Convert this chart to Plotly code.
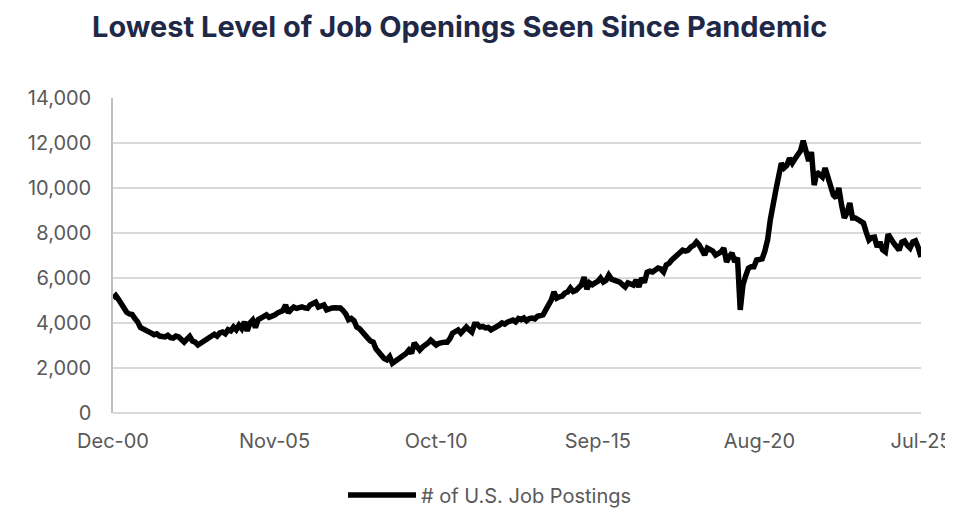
import pandas as pd
import plotly.graph_objects as go

# Monthly values (thousands of postings), Dec-2000 .. Jul-2025
v2000 = [5100]
v2001 = [5220, 5050, 4850, 4650, 4480, 4400, 4380, 4200, 4050, 3800, 3750, 3650]
v2002 = [3620, 3550, 3480, 3520, 3420, 3400, 3380, 3450, 3350, 3330, 3420, 3380]
v2003 = [3300, 3150, 3280, 3400, 3200, 3150, 3020, 3100, 3240, 3300, 3380, 3450]
v2004 = [3500, 3420, 3560, 3600, 3520, 3700, 3650, 3820, 3700, 3900, 3750, 4050]
v2005 = [3650, 4000, 4130, 3800, 4150, 4220, 4300, 4360, 4250, 4270, 4350, 4440]
v2006 = [4500, 4550, 4800, 4450, 4600, 4710, 4650, 4700, 4720, 4670, 4650, 4800]
v2007 = [4850, 4930, 4710, 4750, 4800, 4580, 4650, 4670, 4680, 4650, 4670, 4550]
v2008 = [4400, 4150, 4200, 4100, 3820, 3750, 3600, 3400, 3330, 3200, 3150, 2850]
v2009 = [2700, 2500, 2420, 2360, 2500, 2210, 2300, 2360, 2450, 2500, 2650, 2800]
v2010 = [2650, 3110, 2900, 2800, 2930, 3000, 3110, 3240, 3100, 3020, 3100, 3150]
v2011 = [3150, 3150, 3300, 3550, 3600, 3690, 3550, 3700, 3820, 3700, 3600, 3950]
v2012 = [3950, 3820, 3850, 3780, 3800, 3690, 3750, 3820, 3900, 4000, 3950, 4040]
v2013 = [4100, 4130, 4050, 4200, 4150, 4220, 4100, 4200, 4220, 4180, 4300, 4360]
v2014 = [4360, 4580, 4800, 5020, 5380, 5100, 5160, 5200, 5330, 5380, 5550, 5400]
v2015 = [5450, 5550, 5690, 6040, 5500, 5780, 5700, 5780, 5850, 6000, 5820, 5900]
v2016 = [6130, 5950, 5910, 5850, 5820, 5700, 5600, 5780, 5720, 5690, 5910, 5600]
v2017 = [6000, 5800, 6250, 6300, 6270, 6350, 6440, 6400, 6270, 6580, 6650, 6800]
v2018 = [6900, 7020, 7150, 7240, 7200, 7240, 7380, 7450, 7600, 7470, 7250, 7020]
v2019 = [7330, 7240, 7200, 7020, 7100, 7160, 7330, 6710, 6950, 7110, 6710, 6900]
v2020 = [4580, 5700, 6100, 6440, 6500, 6500, 6800, 6800, 6850, 7200, 7700, 8600]
v2021 = [9400, 9900, 10500, 11100, 10890, 11000, 11330, 11110, 11300, 11450, 11650, 12100]
v2022 = [11700, 11200, 11600, 10130, 10710, 10550, 10490, 10890, 10440, 10000, 9690, 9560]
v2023 = [10000, 9240, 8670, 8900, 9330, 8670, 8670, 8600, 8490, 8440, 8040, 7690]
v2024 = [7800, 7820, 7380, 7600, 7250, 7160, 7950, 7690, 7560, 7400, 7240, 7600]
v2025 = [7650, 7450, 7330, 7600, 7650, 7350, 6930]

values = (v2000 + v2001 + v2002 + v2003 + v2004 + v2005 + v2006 + v2007 + v2008
          + v2009 + v2010 + v2011 + v2012 + v2013 + v2014 + v2015 + v2016 + v2017
          + v2018 + v2019 + v2020 + v2021 + v2022 + v2023 + v2024 + v2025)

months = [d.strftime("%b-%y") for d in pd.date_range("2000-12-01", periods=len(values), freq="MS")]
tick_labels = ["Dec-00", "Nov-05", "Oct-10", "Sep-15", "Aug-20", "Jul-25"]
y_ticks = [0, 2000, 4000, 6000, 8000, 10000, 12000, 14000]

font_family = "Inter, 'Open Sans', sans-serif"
tick_color = "#595959"

W, H = 945, 507  # the page body adds an 8px margin

fig = go.Figure()
fig.add_trace(go.Scatter(
    x=months, y=values, mode="lines",
    name="# of U.S. Job Postings",
    line=dict(color="#000000", width=5.5),
))

fig.update_layout(
    width=W, height=H,
    margin=dict(l=105, r=32, t=90, b=102, autoexpand=False),
    paper_bgcolor="white", plot_bgcolor="white",
    title=dict(
        text="<b>Lowest Level of Job Openings Seen Since Pandemic</b>",
        x=84 / W, xanchor="left", y=1 - 18.5 / H, yanchor="middle",
        font=dict(family=font_family, size=29, color="#1F2947"),
    ),
    showlegend=True,
    legend=dict(
        orientation="h", xref="container", yref="container",
        x=335 / W, xanchor="left", y=(H - 487) / H, yanchor="middle",
        itemwidth=68,
        font=dict(family=font_family, size=20, color=tick_color),
    ),
    xaxis=dict(
        type="category", range=[0, len(values) - 1], automargin=False,
        tickmode="array", tickvals=tick_labels, ticktext=tick_labels,
        showgrid=False, showline=False, ticks="", zeroline=False,
        tickfont=dict(family=font_family, size=20, color=tick_color),
        ticklabelstandoff=14,
    ),
    yaxis=dict(
        range=[0, 14000], tickvals=y_ticks, tickformat=",", automargin=False,
        showgrid=True, gridcolor="#D9D9D9", gridwidth=1.5,
        showline=True, linecolor="#BFBFBF", linewidth=1.5,
        zeroline=True, zerolinecolor="#D9D9D9", zerolinewidth=1.5,
        ticks="", tickfont=dict(family=font_family, size=20, color=tick_color),
        ticklabelstandoff=16,
    ),
)

fig.write_html("out.html")
